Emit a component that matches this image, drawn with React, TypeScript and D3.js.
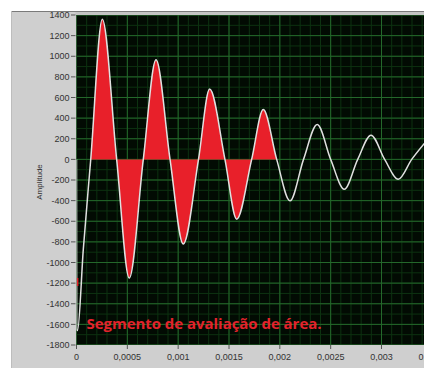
import React from "react";
import * as d3 from "d3";

const timeValues = [
  0, 0.000002, 0.00001, 0.000067, 0.00014, 0.000254, 0.000395, 0.000519, 0.000657,
  0.000782, 0.00092, 0.00105, 0.0012, 0.00131, 0.00146, 0.001576, 0.001723,
  0.001837, 0.001969, 0.0021, 0.002233, 0.002368, 0.0025, 0.002634, 0.002766,
  0.002897, 0.003031, 0.003165, 0.003297, 0.00343,
];
const amplitudeValues = [
  0, -1650, -1660, -870, 0, 1360, 0, -1150, 0, 965, 0, -820, 0, 682, 0, -580, 0,
  483, 0, -402, 0, 338, 0, -290, 0, 235, 0, -193, 0, 165,
];
const fillStart = 0.00014;
const fillEnd = 0.001969;

const xTicks = [0, 0.0005, 0.001, 0.0015, 0.002, 0.0025, 0.003, 0.0035];
const xTickLabels = ["0", "0,0005", "0,001", "0,0015", "0,002", "0,0025", "0,003", "0,0035"];
const yTicks = [1400, 1200, 1000, 800, 600, 400, 200, 0, -200, -400, -600, -800, -1000, -1200, -1400, -1600, -1800];
const yTickLabels = yTicks.map((v) => String(v));
const annotation = "Segmento de avaliação de área.";

export default function App() {
  const W = 424;
  const H = 370;
  const left = 76.5;
  const top = 15;
  const bottom = 345;
  const right = 424;

  const x = d3.scaleLinear().domain([0, 0.0035]).range([left, left + 0.0035 * 101667]);
  const y = d3.scaleLinear().domain([-1800, 1400]).range([bottom, top]);

  const data = timeValues.map((t, i) => ({ t, a: amplitudeValues[i] }));

  const line = d3
    .line<{ t: number; a: number }>()
    .x((d) => x(d.t))
    .y((d) => y(d.a))
    .curve(d3.curveMonotoneX);

  const area = d3
    .area<{ t: number; a: number }>()
    .x((d) => x(d.t))
    .y0(y(0))
    .y1((d) => y(d.a))
    .curve(d3.curveMonotoneX);

  const minorX = d3.range(0, 36).map((i) => i * 0.0001);
  const minorY = d3.range(-18, 15).map((i) => i * 100);

  return (
    <svg
      width={W}
      height={H}
      style={{ position: "absolute", left: 0, top: 0, background: "#ffffff" }}
      fontFamily="'Liberation Sans', Arial, sans-serif"
    >
      <defs>
        <clipPath id="plotClip">
          <rect x={left} y={top} width={right - left} height={bottom - top} />
        </clipPath>
        <clipPath id="fillClip">
          <rect x={x(fillStart)} y={top} width={x(fillEnd) - x(fillStart)} height={bottom - top} />
        </clipPath>
      </defs>
      {/* panel */}
      <rect x={11} y={11} width={W - 11} height={368 - 11} fill="#cfcfcf" />
      <line x1={11} y1={11.5} x2={W} y2={11.5} stroke="#7a7a7a" strokeWidth={1} />
      <line x1={11.5} y1={11} x2={11.5} y2={368} stroke="#bdbdbd" strokeWidth={1} />
      <rect x={left - 1} y={12} width={right - left + 1} height={3} fill="#c4c4c4" />

      {/* plot background */}
      <rect x={left} y={top} width={right - left} height={bottom - top} fill="#020b03" />

      <g clipPath="url(#plotClip)">
        {minorX.map((v, i) => (
          <line key={"mx" + i} x1={x(v)} x2={x(v)} y1={top} y2={bottom} stroke="#0d3211" strokeWidth={1} />
        ))}
        {minorY.map((v, i) => (
          <line key={"my" + i} x1={left} x2={right} y1={y(v)} y2={y(v)} stroke="#0d3211" strokeWidth={1} />
        ))}
        {xTicks.map((v, i) => (
          <line key={"gx" + i} x1={x(v)} x2={x(v)} y1={top} y2={bottom} stroke="#24682b" strokeWidth={1} />
        ))}
        {yTicks.map((v, i) => (
          <line key={"gy" + i} x1={left} x2={right} y1={y(v)} y2={y(v)} stroke="#24682b" strokeWidth={1} />
        ))}

        <path d={area(data) || ""} fill="#e8202a" clipPath="url(#fillClip)" />
        <path d={line(data) || ""} fill="none" stroke="#e0e0e0" strokeWidth={1.5} />
        <rect x={x(0) + 0.3} y={y(-1150)} width={1.6} height={8} fill="#e8202a" />

        <text
          x={86.5}
          y={328.5}
          fill="#e3232c"
          fontFamily="'Open Sans', sans-serif"
          fontWeight="bold"
          fontSize={14}
          textLength={235}
          lengthAdjust="spacingAndGlyphs"
        >
          {annotation}
        </text>
      </g>

      {/* y axis */}
      {yTicks.map((v, i) => (
        <g key={"yt" + i}>
          <line x1={71} x2={75.5} y1={y(v)} y2={y(v)} stroke="#555" strokeWidth={1} />
          <text x={69.5} y={y(v)} dy="0.35em" textAnchor="end" fontSize={9} fill="#333">
            {yTickLabels[i]}
          </text>
        </g>
      ))}
      <text
        transform={`translate(42,${182}) rotate(-90)`}
        textAnchor="middle"
        fontSize={8}
        fill="#333"
      >
        Amplitude
      </text>

      {/* x axis */}
      {xTicks.map((v, i) => (
        <g key={"xt" + i}>
          <line x1={x(v)} x2={x(v)} y1={bottom} y2={bottom + 4} stroke="#555" strokeWidth={1} />
          <text x={x(v)} y={360} textAnchor="middle" fontSize={9} fill="#333">
            {xTickLabels[i]}
          </text>
        </g>
      ))}
    </svg>
  );
}
